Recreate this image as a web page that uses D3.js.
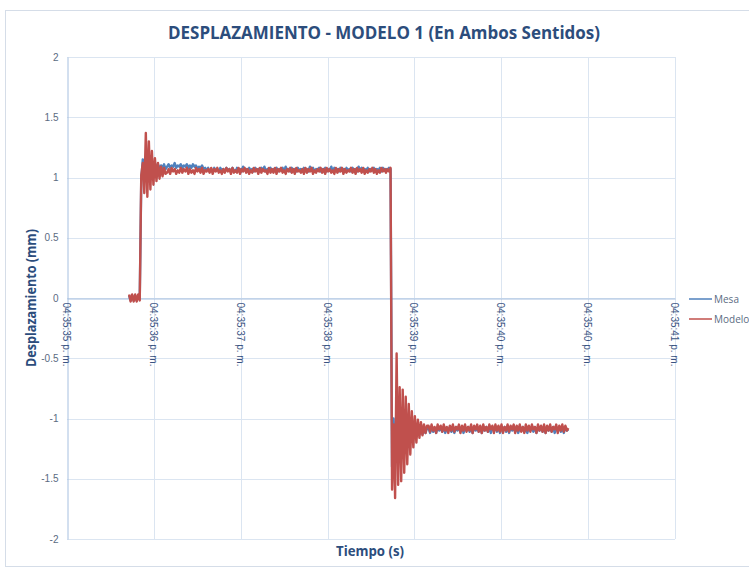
<!DOCTYPE html>
<html>
<head>
<meta charset="utf-8">
<script src="https://cdn.jsdelivr.net/npm/d3@7/dist/d3.min.js"></script>
<style>
  html, body { margin: 0; padding: 0; background: #ffffff; }
  svg { display: block; }
</style>
</head>
<body>
<div id="chart"></div>
<script>
// Etiquetas del eje de tiempo (una por línea de cuadrícula)
const timeLabels = ["04:35:35 p. m.", "04:35:36 p. m.", "04:35:37 p. m.", "04:35:38 p. m.",
                    "04:35:39 p. m.", "04:35:40 p. m.", "04:35:40 p. m.", "04:35:41 p. m."];
const yTicks = [2, 1.5, 1, 0.5, 0, -0.5, -1, -1.5, -2];

// Muestreo: primera muestra a 0.715 s de 04:35:35, una muestra cada 17.5 ms
const SAMPLE_T0 = 0.715;
const SAMPLE_DT = 0.0175;

// Mesa (mm)
const mesaReposo = [0.02,-0.02,0.02,-0.02,0.02,-0.02,0.02,0.00];
const mesaSubida = [0.98,1.15,0.97,1.13,0.98,1.12,1.01,1.10,1.03,1.12,1.06,1.11,1.07,1.10,1.08,1.11,1.07];
const mesaMeseta1 = [
  1.09,1.11,1.08,1.10,1.09,1.12,1.08,1.10,1.09,1.11,1.08,1.10,1.09,1.11,1.08,
  1.10,1.08,1.11,1.09,1.10,1.07,1.09,1.08,1.10,1.07,1.08,1.06,1.08,1.05,1.07,
  1.05,1.08,1.06,1.07,1.05,1.08,1.06,1.07,1.05,1.08,1.06,1.07,1.05,1.08,1.06,
  1.05,1.08,1.06,1.07,1.05,1.09,1.06,1.07,1.05,1.08,1.06,1.07,1.05,1.08,1.06,
  1.07,1.05,1.08,1.06,1.09,1.05,1.07,1.06,1.08,1.05,1.07,1.06,1.08,1.05,1.07,
  1.06,1.08,1.05,1.09,1.06,1.07,1.05,1.08,1.06,1.07,1.05,1.08,1.06,1.07,1.05,
  1.08,1.06,1.07,1.05,1.09,1.06,1.08,1.05,1.07,1.06,1.08,1.05,1.07,1.06,1.08,
  1.05,1.07,1.06,1.09,1.05,1.08,1.06,1.07,1.05,1.08,1.06,1.07,1.05,1.08,1.06,
  1.07,1.05,1.08,1.06,1.07,1.05,1.09,1.06,1.08,1.05,1.07,1.06,1.08,1.05,1.07,
  1.06,1.08,1.05,1.07,1.06,1.08,1.05,1.08,1.06,1.07,1.06,1.08,1.07];
const mesaBajada = [-1.40,-1.00,-1.30,-0.98,-1.26,-1.02,-1.22,-1.03,-1.20,-1.05,-1.18,-1.06,
                    -1.16,-1.07,-1.15,-1.08,-1.14,-1.08,-1.13,-1.09,-1.13,-1.09,-1.12,-1.08];
const mesaMeseta2 = [
  -1.08,-1.12,-1.07,-1.11,-1.08,-1.12,-1.07,-1.10,-1.08,-1.11,-1.07,-1.12,-1.08,-1.10,-1.07,
  -1.11,-1.08,-1.12,-1.07,-1.10,-1.08,-1.11,-1.07,-1.12,-1.08,-1.10,-1.07,-1.11,-1.08,-1.12,
  -1.07,-1.10,-1.08,-1.11,-1.07,-1.12,-1.08,-1.10,-1.07,-1.11,-1.08,-1.12,-1.07,-1.10,-1.08,
  -1.11,-1.07,-1.12,-1.08,-1.10,-1.07,-1.11,-1.08,-1.12,-1.07,-1.10,-1.08,-1.11,-1.07,-1.12,
  -1.08,-1.10,-1.07,-1.11,-1.08,-1.12,-1.07,-1.10,-1.08,-1.11,-1.07,-1.12,-1.08,-1.10,-1.07,
  -1.11,-1.08,-1.12,-1.07,-1.10,-1.08,-1.11,-1.07,-1.12,-1.08,-1.10,-1.07,-1.11,-1.08,-1.12,
  -1.07,-1.10,-1.09];

// Modelo (mm)
const modeloReposo = [0.03,-0.03,0.03,-0.03,0.03,-0.03,0.03,-0.02];
const modeloSubida = [1.02,1.12,0.87,1.37,0.84,1.30,0.90,1.22,0.94,1.16,0.97,1.12,0.99,1.09,1.01,1.08,1.03];
const modeloMeseta1 = [
  1.04,1.07,1.03,1.08,1.05,1.07,1.03,1.06,1.04,1.08,1.04,1.07,1.05,1.08,1.03,
  1.07,1.04,1.06,1.03,1.08,1.05,1.07,1.04,1.08,1.03,1.06,1.05,1.07,1.04,1.08,
  1.03,1.07,1.05,1.08,1.04,1.06,1.03,1.07,1.04,1.08,1.05,1.07,1.03,1.08,1.04,
  1.06,1.04,1.08,1.03,1.07,1.05,1.08,1.04,1.07,1.03,1.06,1.04,1.08,1.05,1.07,
  1.03,1.08,1.04,1.07,1.05,1.06,1.03,1.08,1.04,1.07,1.04,1.08,1.03,1.07,1.05,
  1.08,1.04,1.06,1.03,1.07,1.05,1.08,1.04,1.07,1.03,1.08,1.05,1.06,1.04,1.07,
  1.03,1.08,1.04,1.07,1.05,1.08,1.03,1.06,1.04,1.07,1.05,1.08,1.04,1.07,1.03,
  1.08,1.05,1.07,1.04,1.06,1.03,1.08,1.04,1.07,1.05,1.08,1.03,1.07,1.04,1.06,
  1.05,1.08,1.04,1.07,1.03,1.08,1.05,1.07,1.04,1.08,1.03,1.06,1.04,1.07,1.05,
  1.08,1.04,1.07,1.03,1.06,1.04,1.08,1.05,1.07,1.04,1.07,1.05,1.08];
const modeloBajada = [-1.59,-1.05,-1.66,-0.46,-1.55,-0.74,-1.52,-0.76,-1.45,-0.82,-1.38,-0.88,
                      -1.30,-0.94,-1.24,-0.98,-1.20,-1.01,-1.16,-1.03,-1.14,-1.05,-1.12,-1.06];
const modeloMeseta2 = [
  -1.06,-1.11,-1.05,-1.10,-1.07,-1.12,-1.05,-1.09,-1.06,-1.11,-1.05,-1.10,-1.07,-1.12,-1.06,
  -1.10,-1.05,-1.11,-1.07,-1.09,-1.05,-1.12,-1.06,-1.10,-1.05,-1.11,-1.07,-1.10,-1.05,-1.12,
  -1.06,-1.09,-1.05,-1.11,-1.06,-1.12,-1.05,-1.10,-1.07,-1.11,-1.05,-1.09,-1.06,-1.12,-1.05,
  -1.10,-1.06,-1.11,-1.05,-1.12,-1.07,-1.10,-1.05,-1.11,-1.06,-1.09,-1.05,-1.12,-1.06,-1.10,
  -1.05,-1.11,-1.07,-1.12,-1.05,-1.10,-1.06,-1.11,-1.05,-1.09,-1.07,-1.12,-1.05,-1.10,-1.06,
  -1.11,-1.05,-1.12,-1.06,-1.10,-1.05,-1.11,-1.07,-1.09,-1.05,-1.12,-1.06,-1.10,-1.05,-1.11,
  -1.06,-1.10,-1.08];

const mesa = [].concat(mesaReposo, mesaSubida, mesaMeseta1, mesaBajada, mesaMeseta2);
const modelo = [].concat(modeloReposo, modeloSubida, modeloMeseta1, modeloBajada, modeloMeseta2);

const series = [
  { name: "Mesa", values: mesa, color: "#4F81BD" },
  { name: "Modelo", values: modelo, color: "#C0504D" }
];

const W = 749, H = 571;
const plot = { left: 67, right: 675, top: 57, bottom: 539 };

const svg = d3.select("#chart").append("svg")
  .attr("width", W).attr("height", H)
  .style("font-family", "'Open Sans', 'Liberation Sans', sans-serif");

// marco del gráfico
svg.append("rect")
  .attr("x", 5.5).attr("y", 10.5).attr("width", 760).attr("height", 556)
  .attr("fill", "#ffffff").attr("stroke", "#d5dde8").attr("stroke-width", 1);

const x = d3.scaleLinear().domain([0, timeLabels.length - 1]).range([plot.left, plot.right]);
const y = d3.scaleLinear().domain([-2, 2]).range([plot.bottom, plot.top]);

// cuadrícula
const grid = svg.append("g");
grid.selectAll("line.h").data(yTicks).enter().append("line")
  .attr("x1", plot.left).attr("x2", plot.right)
  .attr("y1", d => Math.round(y(d)) + 0.5).attr("y2", d => Math.round(y(d)) + 0.5)
  .attr("stroke", "#dbe5f1").attr("stroke-width", 1);
grid.selectAll("line.v").data(d3.range(1, timeLabels.length)).enter().append("line")
  .attr("y1", plot.top).attr("y2", plot.bottom)
  .attr("x1", d => Math.round(x(d)) + 0.5).attr("x2", d => Math.round(x(d)) + 0.5)
  .attr("stroke", "#dbe5f1").attr("stroke-width", 1);

// eje Y
const yAxis = d3.axisLeft(y).tickValues(yTicks).tickSize(0).tickPadding(9)
  .tickFormat(d => String(d));
const gy = svg.append("g").attr("transform", `translate(${plot.left + 0.5},0)`).call(yAxis);
gy.select(".domain").attr("stroke", "#a7c0e0");
gy.selectAll("text").attr("fill", "#5b6b82").style("font-size", "10px");

// eje X en y = 0
const xAxis = d3.axisBottom(x).tickValues(d3.range(timeLabels.length)).tickSize(0)
  .tickFormat(i => timeLabels[i]);
const gx = svg.append("g").attr("transform", `translate(0,${Math.round(y(0)) + 0.5})`).call(xAxis);
gx.select(".domain").attr("stroke", "#a7c0e0");
gx.selectAll("text")
  .attr("fill", "#3a5382").style("font-size", "10px")
  .attr("text-anchor", "start")
  .attr("transform", "rotate(90)")
  .attr("x", 4).attr("y", 1).attr("dy", "0.35em");

// series: tiempo de cada muestra en segundos desde 04:35:35
const t = i => SAMPLE_T0 + i * SAMPLE_DT;
const xt = d3.scaleLinear().domain([0, 7]).range([plot.left, plot.right]);
const line = d3.line().x((d, i) => xt(t(i))).y(d => y(d));
svg.append("g").selectAll("path").data(series).enter().append("path")
  .attr("d", s => line(s.values))
  .attr("fill", "none")
  .attr("stroke", s => s.color)
  .attr("stroke-width", 2.4)
  .attr("stroke-linejoin", "round");

// título
svg.append("text")
  .attr("x", 384).attr("y", 39).attr("text-anchor", "middle")
  .attr("fill", "#2c4d7c").style("font-size", "18px").style("font-weight", "bold")
  .attr("textLength", 432).attr("lengthAdjust", "spacingAndGlyphs")
  .text("DESPLAZAMIENTO - MODELO 1 (En Ambos Sentidos)");

// títulos de ejes
svg.append("text")
  .attr("transform", "translate(36,298) rotate(-90)")
  .attr("text-anchor", "middle")
  .attr("fill", "#2c4d7c").style("font-size", "14px").style("font-weight", "bold")
  .attr("textLength", 138).attr("lengthAdjust", "spacingAndGlyphs")
  .text("Desplazamiento (mm)");
svg.append("text")
  .attr("x", 370).attr("y", 556).attr("text-anchor", "middle")
  .attr("fill", "#2c4d7c").style("font-size", "14px").style("font-weight", "bold")
  .attr("textLength", 68).attr("lengthAdjust", "spacingAndGlyphs")
  .text("Tiempo (s)");

// leyenda
const legend = svg.append("g").selectAll("g").data(series).enter().append("g")
  .attr("transform", (d, i) => `translate(689,${299 + i * 20})`);
legend.append("line").attr("x1", 0).attr("x2", 23).attr("y1", 0).attr("y2", 0)
  .attr("stroke", d => d.color).attr("stroke-width", 1.5);
legend.append("text").attr("x", 25).attr("y", 0).attr("dy", "0.35em")
  .attr("fill", "#5b6b82").style("font-size", "10px")
  .text(d => d.name);
</script>
</body>
</html>
